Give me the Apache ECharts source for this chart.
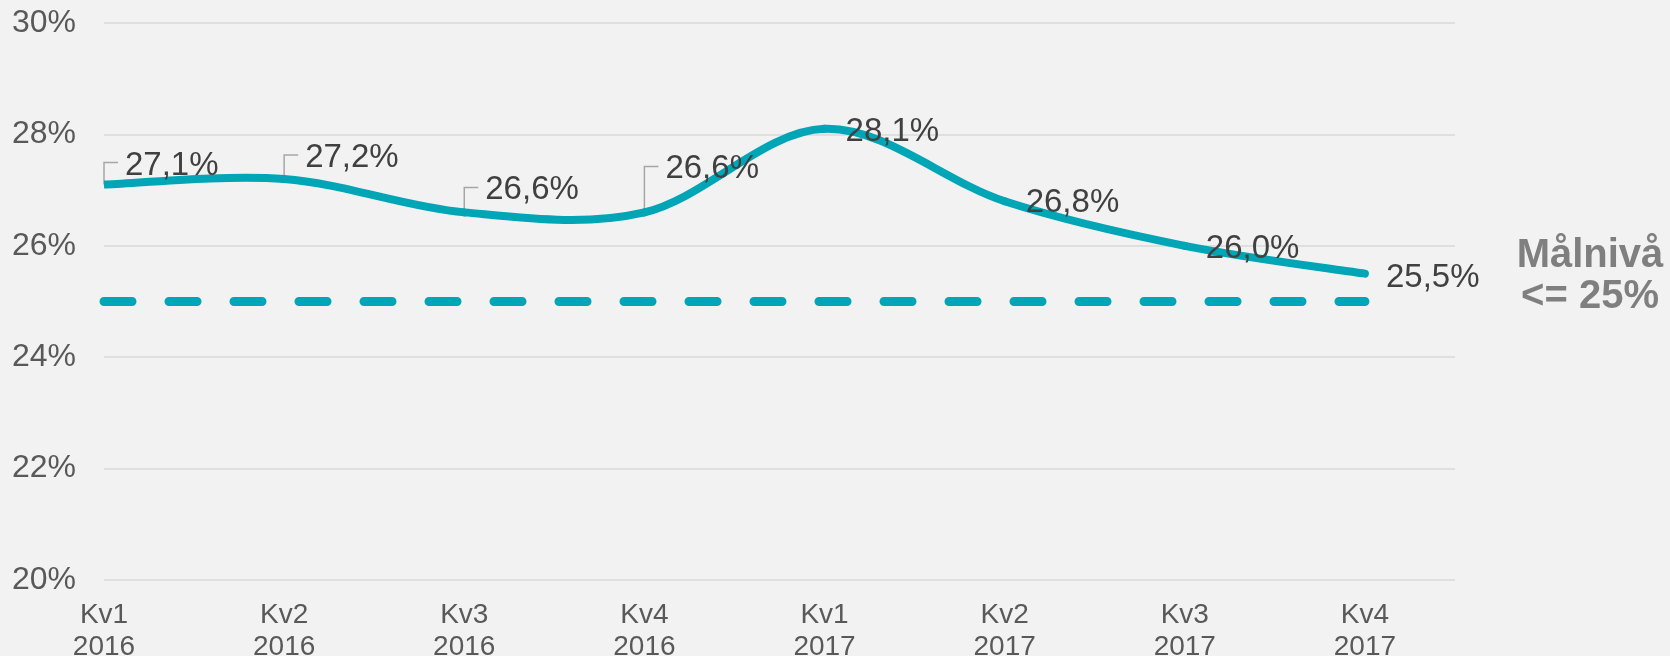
<!DOCTYPE html>
<html>
<head>
<meta charset="utf-8">
<script src="https://cdn.jsdelivr.net/npm/echarts@6/dist/echarts.min.js"></script>
<style>
  html, body { margin: 0; padding: 0; background: #f2f2f2; }
  #chart { width: 1670px; height: 656px; }
</style>
</head>
<body>
<div id="chart"></div>
<script>
  // data
  var quarters = ['Kv1', 'Kv2', 'Kv3', 'Kv4', 'Kv1', 'Kv2', 'Kv3', 'Kv4']
  var years = ['2016', '2016', '2016', '2016', '2017', '2017', '2017', '2017']
  var share = [27.1, 27.2, 26.6, 26.6, 28.1, 26.8, 26.0, 25.5]
  var targetLevel = 25
  var targetText = 'Målnivå\n<= 25%'

  // label placement (pixels), leader brackets on the first four
  var labelDy = [-22, -24, -25, -46, 0, -1, 0, 1]
  var hasLeader = [true, true, true, true, false, false, false, false]

  var teal = '#00a5b6'
  var points = share.map(function (v, i) { return [i, v] })

  // excel style smoothed line (catmull-rom), drawn segment by segment
  function renderCurve (params, api) {
    var i = params.dataIndex
    if (i >= share.length - 1) return
    var pt = function (j) {
      j = Math.max(0, Math.min(share.length - 1, j))
      return api.coord([j, share[j]])
    }
    var p0 = pt(i - 1), p1 = pt(i), p2 = pt(i + 1), p3 = pt(i + 2)
    return {
      type: 'bezierCurve',
      shape: {
        x1: p1[0], y1: p1[1],
        x2: p2[0], y2: p2[1],
        cpx1: p1[0] + (p2[0] - p0[0]) / 6,
        cpy1: p1[1] + (p2[1] - p0[1]) / 6,
        cpx2: p2[0] - (p3[0] - p1[0]) / 6,
        cpy2: p2[1] - (p3[1] - p1[1]) / 6
      },
      style: {
        stroke: teal,
        lineWidth: 8,
        fill: null,
        lineCap: i === 0 ? 'butt' : 'round'
      }
    }
  }

  var option = {
    backgroundColor: '#f2f2f2',
    animation: false,
    textStyle: { fontFamily: 'Liberation Sans, Arial, sans-serif' },
    title: {
      text: targetText,
      left: 1585,
      top: 230,
      textAlign: 'center',
      textStyle: {
        fontSize: 40,
        lineHeight: 41,
        fontWeight: 'bold',
        color: '#7f7f7f',
        fontFamily: 'Liberation Sans, Arial, sans-serif'
      }
    },
    grid: {
      left: 104,
      right: 215,
      top: 23,
      bottom: 76,
      outerBoundsMode: 'none'
    },
    xAxis: {
      type: 'value',
      min: 0,
      max: 7.5,
      interval: 1,
      axisLine: { show: false },
      axisTick: { show: false },
      splitLine: { show: false },
      axisLabel: {
        margin: 19,
        fontSize: 28,
        lineHeight: 32,
        color: '#595959',
        showMaxLabel: false,
        formatter: function (v) {
          if (v % 1 !== 0 || !quarters[v]) return ''
          return quarters[v] + '\n' + years[v]
        }
      }
    },
    yAxis: {
      type: 'value',
      min: 20,
      max: 30,
      interval: 2,
      axisLine: { show: false },
      axisTick: { show: false },
      splitLine: { lineStyle: { color: '#d9d9d9', width: 1.5 } },
      axisLabel: {
        margin: 28,
        fontSize: 32,
        color: '#595959',
        formatter: '{value}%'
      }
    },
    series: [
      {
        type: 'custom',
        z: 1,
        silent: true,
        data: points,
        renderItem: function (params, api) {
          var i = params.dataIndex
          if (!hasLeader[i]) return
          var pt = api.coord([api.value(0), api.value(1)])
          var top = pt[1] + labelDy[i]
          return {
            type: 'polyline',
            shape: { points: [[pt[0], pt[1]], [pt[0], top], [pt[0] + 14, top]] },
            style: { stroke: '#a6a6a6', lineWidth: 1.5, fill: null }
          }
        }
      },
      {
        type: 'custom',
        z: 2,
        silent: true,
        data: points,
        renderItem: renderCurve
      },
      {
        type: 'line',
        z: 3,
        data: points.map(function (p, i) {
          return { value: p, label: { offset: [0, labelDy[i] + 3] } }
        }),
        symbol: 'circle',
        symbolSize: 0,
        lineStyle: { opacity: 0 },
        itemStyle: { color: teal },
        label: {
          show: true,
          position: 'right',
          distance: 21,
          fontSize: 33,
          color: '#404040',
          formatter: function (p) {
            return p.value[1].toFixed(1).replace('.', ',') + '%'
          }
        },
        markLine: {
          silent: true,
          symbol: ['none', 'none'],
          label: { show: false },
          lineStyle: { color: teal, width: 9, type: [28, 37], cap: 'round', opacity: 1 },
          data: [[{ coord: [0, targetLevel] }, { coord: [share.length - 1, targetLevel] }]]
        }
      }
    ]
  }

  var chart = echarts.init(document.getElementById('chart'))
  chart.setOption(option)
  window.addEventListener('resize', function () {
    chart.resize()
  })
</script>
</body>
</html>
